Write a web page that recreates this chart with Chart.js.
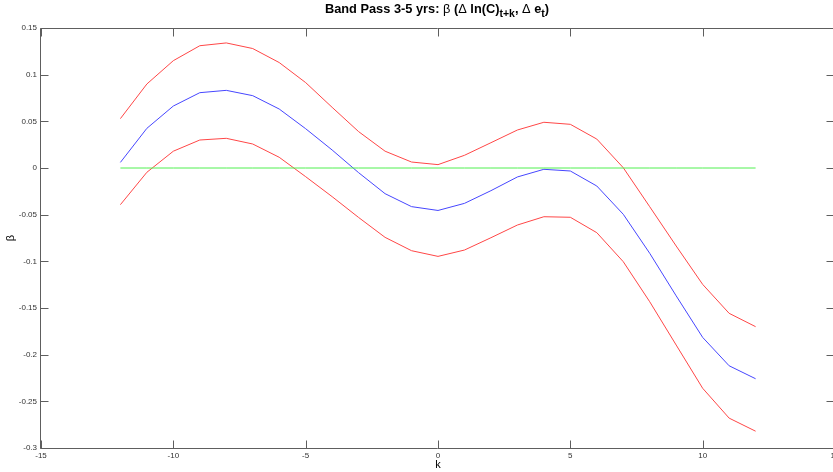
<!DOCTYPE html>
<html>
<head>
<meta charset="utf-8">
<title>Band Pass 3-5 yrs</title>
<script src="https://cdn.jsdelivr.net/npm/chart.js@4/dist/chart.umd.min.js"></script>
<style>
  html, body { margin: 0; padding: 0; background: #fff; overflow: hidden; width: 833px; height: 472px; }
  #wrap { position: relative; width: 833px; height: 472px; }
  #plot { position: absolute; left: 0; top: 0; }
  #title {
    position: absolute; left: 437px; top: 1px; transform: translateX(-50%);
    white-space: nowrap; font: bold 12.8px "Liberation Sans", Arial, sans-serif; color: #000;
  }
  #title .g { font-weight: normal; }
  #title sub { font-size: 10.5px; vertical-align: -4px; line-height: 0; }
</style>
</head>
<body>
<div id="wrap">
  <canvas id="plot" width="840" height="472"></canvas>
  <div id="title">Band Pass 3-5 yrs: <span class="g">β</span> (<span class="g">Δ</span> ln(C)<sub>t+k</sub>, <span class="g">Δ</span> e<sub>t</sub>)</div>
</div>
<script>
// lead/lag k
const k = [-12, -11, -10, -9, -8, -7, -6, -5, -4, -3, -2, -1, 0, 1, 2, 3, 4, 5, 6, 7, 8, 9, 10, 11, 12];

// point estimate of beta
const beta = [0.006, 0.0425, 0.0664, 0.0807, 0.0832, 0.0775, 0.0632, 0.0421, 0.0193, -0.005, -0.0275, -0.0414, -0.0455,
  -0.0379, -0.0243, -0.0096, -0.0014, -0.0032, -0.0193, -0.0496, -0.0914, -0.137, -0.1815, -0.2119, -0.2258];

// confidence band
const upper = [0.0529, 0.090, 0.115, 0.131, 0.134, 0.128, 0.113, 0.0915, 0.065, 0.039, 0.018, 0.0064, 0.0036,
  0.0136, 0.0271, 0.0407, 0.049, 0.0468, 0.031, 0.0003, -0.0415, -0.0836, -0.1247, -0.1557, -0.170];
const lower = [-0.0393, -0.0046, 0.018, 0.030, 0.0318, 0.0257, 0.0115, -0.0093, -0.0307, -0.053, -0.0743, -0.0886, -0.0947,
  -0.0879, -0.0747, -0.0611, -0.0522, -0.0528, -0.0693, -0.1004, -0.1433, -0.1897, -0.236, -0.268, -0.282];

const zero = [0, 0, 0, 0, 0, 0, 0, 0, 0, 0, 0, 0, 0, 0, 0, 0, 0, 0, 0, 0, 0, 0, 0, 0, 0];

const xTicks = [-15, -10, -5, 0, 5, 10, 15];
const yTicks = [0.15, 0.1, 0.05, 0, -0.05, -0.1, -0.15, -0.2, -0.25, -0.3];

const toPoints = vals => vals.map((v, i) => ({ x: k[i], y: v }));

const AXIS_COLOR = '#5e5e5e';
const TICK_FONT = { family: '"Liberation Sans", Arial, sans-serif', size: 8 };

// matlab style box with inward ticks on all four sides
const boxTicks = {
  id: 'boxTicks',
  afterDatasetsDraw(chart) {
    const { ctx, chartArea: a, scales: { x, y } } = chart;
    const L = Math.round(a.left) - 0.5, R = Math.round(a.right) - 0.5;
    const T = Math.round(a.top) + 0.5, B = Math.round(a.bottom) + 0.5;
    ctx.save();
    ctx.strokeStyle = AXIS_COLOR;
    ctx.lineWidth = 1;
    ctx.beginPath();
    ctx.rect(L, T, R - L, B - T);
    xTicks.forEach(v => {
      const px = Math.round(x.getPixelForValue(v)) + 0.5;
      ctx.moveTo(px, B); ctx.lineTo(px, B - 8);
      ctx.moveTo(px, T); ctx.lineTo(px, T + 8);
    });
    yTicks.forEach(v => {
      const py = Math.round(y.getPixelForValue(v)) + 0.5;
      ctx.moveTo(L, py); ctx.lineTo(L + 8, py);
      ctx.moveTo(R, py); ctx.lineTo(R - 8, py);
    });
    ctx.stroke();
    ctx.restore();
  }
};

const line = (data, color) => ({
  data: toPoints(data),
  borderColor: color,
  borderWidth: 1,
  pointRadius: 0,
  tension: 0,
  fill: false
});

new Chart(document.getElementById('plot'), {
  type: 'line',
  data: {
    datasets: [
      line(zero, 'rgb(80, 240, 80)'),
      line(upper, 'rgb(255, 70, 70)'),
      line(beta, 'rgb(70, 70, 255)'),
      line(lower, 'rgb(255, 70, 70)')
    ]
  },
  options: {
    responsive: false,
    animation: false,
    devicePixelRatio: 1,
    layout: { padding: { top: 28, right: 5, left: 0, bottom: 0 } },
    plugins: { legend: { display: false }, tooltip: { enabled: false } },
    scales: {
      x: {
        type: 'linear',
        min: -15,
        max: 15,
        afterFit: s => { s.height = 24; s.paddingLeft = 0; s.paddingRight = 0; },
        afterBuildTicks: s => { s.ticks = xTicks.map(v => ({ value: v })); },
        grid: { display: false, drawTicks: false },
        border: { display: false },
        ticks: { color: '#333', font: TICK_FONT, padding: 3, maxRotation: 0, autoSkip: false },
        title: {
          display: true, text: 'k', color: '#000',
          font: { family: '"Liberation Sans", Arial, sans-serif', size: 11 },
          padding: { top: 0, bottom: 0 }
        }
      },
      y: {
        min: -0.3,
        max: 0.15,
        afterFit: s => { s.width = 41; s.paddingTop = 0; s.paddingBottom = 0; },
        afterBuildTicks: s => { s.ticks = yTicks.map(v => ({ value: v })); },
        grid: { display: false, drawTicks: false },
        border: { display: false },
        ticks: { color: '#333', font: TICK_FONT, padding: 4, callback: v => String(+v.toFixed(2)) },
        title: {
          display: true, text: 'β', color: '#000',
          font: { family: '"Liberation Sans", Arial, sans-serif', size: 11 },
          padding: { top: 4, bottom: 0 }
        }
      }
    }
  },
  plugins: [boxTicks]
});
</script>
</body>
</html>
